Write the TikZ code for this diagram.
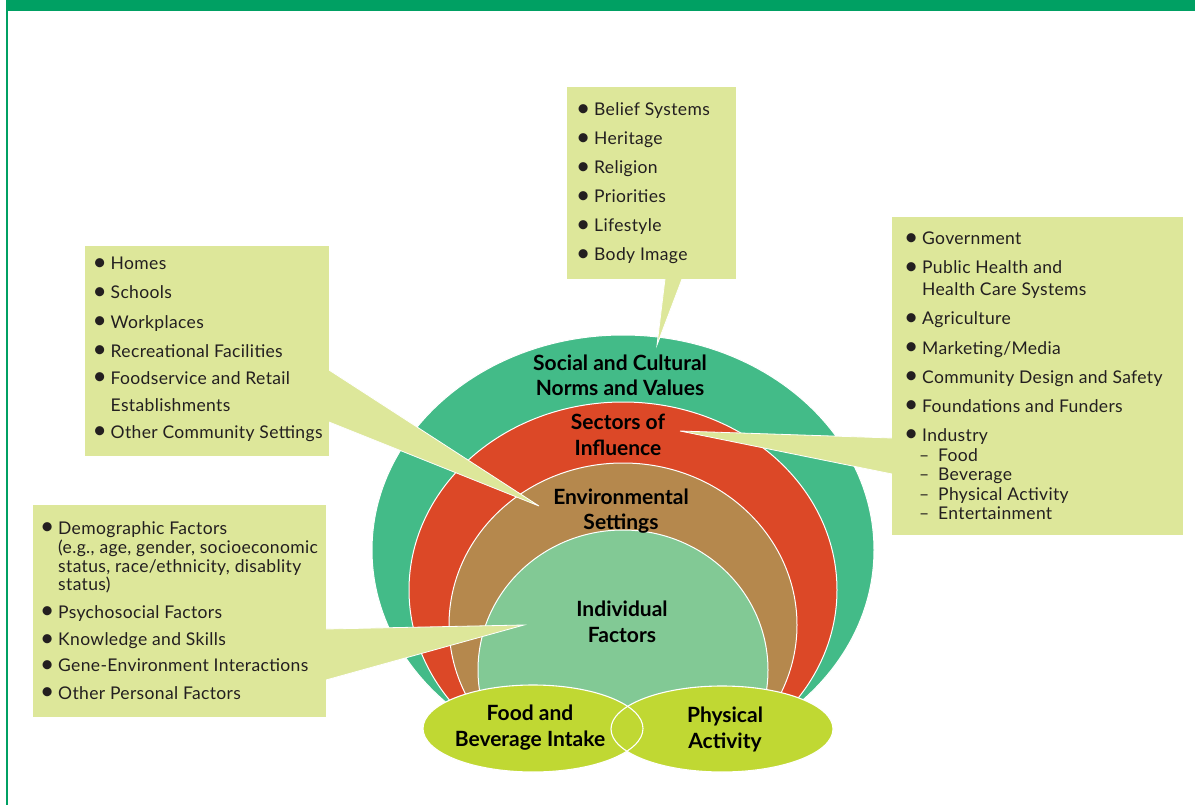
\documentclass[tikz,border=0pt]{standalone}
\usepackage{fontspec}
\setmainfont{Lato}
\definecolor{framec}{HTML}{00A063}
\definecolor{boxc}{HTML}{DDE79A}
\definecolor{outerc}{HTML}{43BB88}
\definecolor{redc}{HTML}{DC4827}
\definecolor{brownc}{HTML}{B5884D}
\definecolor{lgc}{HTML}{82C995}
\definecolor{foodc}{HTML}{C0D833}
\definecolor{txtc}{HTML}{231F20}
\begin{document}
\begin{tikzpicture}[x=1pt,y=-1pt,
  itm/.style={anchor=base west,inner sep=0pt,font=\fontsize{17.5}{20}\selectfont\addfontfeatures{LetterSpace=2},text=txtc},
  lbl/.style={align=center,inner sep=0pt,font=\fontsize{21}{25.5}\selectfont\bfseries,text=black},
  boxn/.style={fill=boxc,draw=none,inner sep=0pt,anchor=north west},
  wedge/.style={fill=boxc,draw=white,line width=0.8pt,line join=miter},
  ring/.style={draw=white,line width=1pt},
  foodell/.style={fill=foodc}]
\useasboundingbox (0,0) rectangle (1195,805);
\fill[white] (0,0) rectangle (1195,805);
\fill[framec] (6,0) rectangle (1195,11);
\draw[framec,line width=1.6pt] (7.2,11) -- (7.2,805);
% rings
\begin{scope}
\clip (0,0) rectangle (1195,730);
\draw[ring,fill=outerc] (623,550) ellipse [x radius=251, y radius=215];
\draw[ring,fill=redc] (623,590) ellipse [x radius=214, y radius=188];
\draw[ring,fill=brownc] (623,625) ellipse [x radius=174, y radius=162];
\draw[ring,fill=lgc] (623,670) ellipse [x radius=145, y radius=140];
\end{scope}
% food / activity ellipses
\fill[foodell] (533,728.5) ellipse [x radius=110, y radius=43.5];
\fill[foodell] (722,729) ellipse [x radius=111, y radius=43];
\draw[white,line width=1.1pt] (533,728.5) ellipse [x radius=110, y radius=43.5];
\draw[white,line width=1.1pt] (722,729) ellipse [x radius=111, y radius=43];
% callout boxes
\node[boxn,minimum width=169,minimum height=192] (bxtop) at (567,87) {};
\node[boxn,minimum width=244,minimum height=210] (bxenv) at (85,246) {};
\node[boxn,minimum width=291,minimum height=318] (bxsec) at (892,217) {};
\node[boxn,minimum width=293,minimum height=212] (bxind) at (33,505) {};
% pointer coordinates
\coordinate (tipTop) at (657,345);
\coordinate (tipEnv) at (539,506);
\coordinate (tipSec) at (680,431);
\coordinate (tipInd) at (524,625);
% wedges
\draw[wedge] (665,279) -- (tipTop) -- (682,279);
\fill[boxc] (663,270) rectangle (684,279);
\draw[wedge] (329,370) -- (tipEnv) -- (329,422);
\fill[boxc] (320,368) rectangle (329,424);
\draw[wedge] (892,438) -- (tipSec) -- (892,474);
\fill[boxc] (892,436) rectangle (900,476);
\draw[wedge] (326,629) -- (tipInd) -- (326,680);
\fill[boxc] (318,627) rectangle (326,682);
% labels
\node[lbl] (lsoc) at (620,375.5) {Social and Cultural\\Norms and Values};
\node[lbl] (lsec) at (618,435) {Sectors of\\Influence};
\node[lbl] (lenv) at (621,511) {Environmental\\Settings};
\node[lbl] (lind) at (622,622) {Individual\\Factors};
\node[lbl] (lfood) at (530,727.5) {Food and\\Beverage Intake};
\node[lbl] (lpa) at (725,729.5) {Physical\\Activity};
% bullet macros
\newcommand{\bul}{\llap{\makebox[18pt][l]{\raisebox{-0.6pt}{\scalebox{1.4}{\textbullet}}}}}
\newcommand{\dsh}{\llap{\makebox[19pt][l]{–}}}
% top box text
\node[itm] (a1) at (594,115.5) {\bul Belief Systems};
\node[itm] (a2) at (594,144.5) {\bul Heritage};
\node[itm] (a3) at (594,173.5) {\bul Religion};
\node[itm] (a4) at (594,203) {\bul Priorities};
\node[itm] (a5) at (594,232) {\bul Lifestyle};
\node[itm] (a6) at (594,261) {\bul Body Image};
% environmental box text
\node[itm] (b1) at (110.5,270) {\bul Homes};
\node[itm] (b2) at (110.5,299) {\bul Schools};
\node[itm] (b3) at (110.5,328) {\bul Workplaces};
\node[itm] (b4) at (110.5,357) {\bul Recreational Facilities};
\node[itm] (b5) at (110.5,384) {\bul Foodservice and Retail};
\node[itm] (b6) at (110.5,411) {Establishments};
\node[itm] (b7) at (110.5,438) {\bul Other Community Settings};
% sectors box text
\node[itm] (c1) at (922,245) {\bul Government};
\node[itm] (c2) at (922,274) {\bul Public Health and};
\node[itm] (c3) at (922,296) {Health Care Systems};
\node[itm] (c4) at (922,325) {\bul Agriculture};
\node[itm] (c5) at (922,354) {\bul Marketing/Media};
\node[itm] (c6) at (922,383) {\bul Community Design and Safety};
\node[itm] (c7) at (922,412) {\bul Foundations and Funders};
\node[itm] (c8) at (922,441) {\bul Industry};
\node[itm] (c9) at (938,461) {\dsh Food};
\node[itm] (c10) at (938,480) {\dsh Beverage};
\node[itm] (c11) at (938,500) {\dsh Physical Activity};
\node[itm] (c12) at (938,519) {\dsh Entertainment};
% individual box text
\node[itm] (d1) at (58,534) {\bul Demographic Factors};
\node[itm] (d2) at (58,553.5) {(e.g., age, gender, socioeconomic};
\node[itm] (d3) at (58,572) {status, race/ethnicity, disablity};
\node[itm] (d4) at (58,590) {status)};
\node[itm] (d5) at (58,618) {\bul Psychosocial Factors};
\node[itm] (d6) at (58,645.5) {\bul Knowledge and Skills};
\node[itm] (d7) at (58,671.5) {\bul Gene-Environment Interactions};
\node[itm] (d8) at (58,699) {\bul Other Personal Factors};
\end{tikzpicture}
\end{document}
